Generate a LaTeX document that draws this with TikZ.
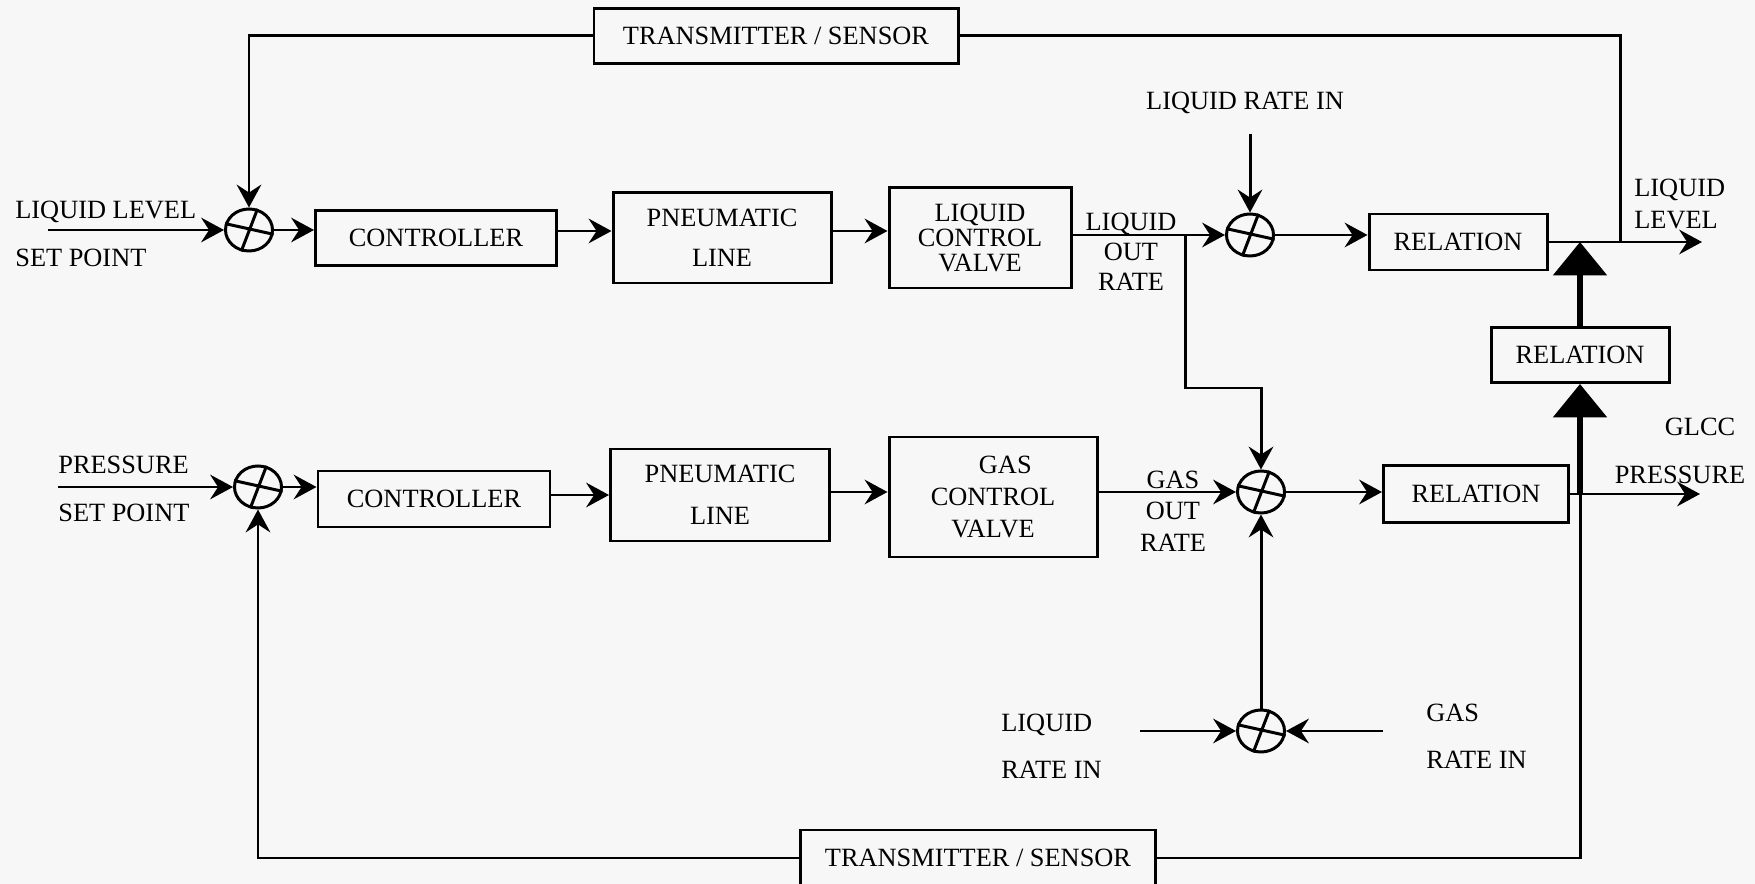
\documentclass[tikz,border=0pt]{standalone}
\usepackage{fontspec}
\setmainfont{Liberation Serif}
\usetikzlibrary{arrows.meta,shapes.geometric,calc}
\newlength\pxu
\setlength\pxu{0.02cm}
\definecolor{bgc}{RGB}{247,247,247}
\begin{document}
\begin{tikzpicture}[x=0.02cm,y=-0.02cm,
  font=\fontsize{15}{17}\selectfont,
  box/.style={draw,line width=1.7pt,inner sep=0pt,align=center},
  sumj/.style={draw,ellipse,line width=1.7pt,minimum width=47\pxu,minimum height=42\pxu,inner sep=0pt},
  lbl/.style={inner sep=0pt,align=center},
  conn/.style={line width=1.7pt},
  arr/.style={conn,-{Stealth[length=13pt,width=14pt,inset=4.5pt]}},
  bigarr/.style={line width=3.8pt,-{Triangle[length=19pt,width=30pt]}}]
\fill[bgc] (0,0) rectangle (1755,884);
\useasboundingbox (0,0) rectangle (1755,884);

% ---- row 1 ----
\node[box,minimum width=364\pxu,minimum height=55\pxu] (TS1) at (776,36) {TRANSMITTER / SENSOR};
\node[lbl,align=left,anchor=west] (LLSP) at (15,234) {LIQUID LEVEL\\[10pt]SET POINT};
\coordinate (LLSPa) at (48,230);
\node[sumj] (S1) at (249,230) {};
\node[box,minimum width=241\pxu,minimum height=55\pxu] (C1) at (436,238) {CONTROLLER};
\node[box,minimum width=218\pxu,minimum height=90\pxu] (P1) at (722,238) {PNEUMATIC\\[6pt]LINE};
\node[box,minimum width=182\pxu,minimum height=100\pxu,font=\fontsize{15}{14.2}\selectfont] (L1) at (980,238) {LIQUID\\CONTROL\\VALVE};
\node[lbl] (LOR) at (1131,252) {LIQUID\\OUT\\RATE};
\node[lbl] (LRI) at (1245,103) {LIQUID RATE IN};
\coordinate (LRIa) at (1250,134);
\node[sumj] (S2) at (1250,235) {};
\node[box,minimum width=178\pxu,minimum height=56\pxu] (R1) at (1458,242) {RELATION};
\coordinate (LLend) at (1702,242);
\coordinate (FB1b) at (1620,242);
\node[lbl,align=left,anchor=west,font=\fontsize{15}{18}\selectfont] (LL) at (1634,204) {LIQUID\\LEVEL};
\node[box,minimum width=178\pxu,minimum height=55\pxu] (R2) at (1580,355) {RELATION};
\coordinate (r1) at (0,231);
\coordinate (BRa) at (1185,235);
\coordinate (BRb) at (1261,388);

% ---- row 2 ----
\node[lbl,align=left,anchor=west] (PSP) at (58,489) {PRESSURE\\[10pt]SET POINT};
\coordinate (PSPa) at (58,487);
\node[sumj] (S5) at (258,487) {};
\node[box,minimum width=232\pxu,minimum height=56\pxu] (C2) at (434,499) {CONTROLLER};
\node[box,minimum width=219\pxu,minimum height=92\pxu] (P2) at (720,495) {PNEUMATIC\\[7pt]LINE};
\node[box,minimum width=208\pxu,minimum height=120\pxu,font=\fontsize{15}{18}\selectfont] (G) at (993,497) {\hspace*{14pt}GAS\\CONTROL\\VALVE};
\node[lbl,font=\fontsize{15}{18}\selectfont] (GOR) at (1173,511) {GAS\\OUT\\RATE};
\node[sumj] (S3) at (1261,492) {};
\node[box,minimum width=185\pxu,minimum height=57\pxu] (R3) at (1476,494) {RELATION};
\coordinate (PEnd) at (1700,494);
\node[lbl] (GLCC) at (1700,427) {GLCC};
\node[lbl] (GP) at (1680,475) {PRESSURE};
\coordinate (r2) at (0,495);
\coordinate (r2b) at (0,492);

% ---- bottom ----
\node[sumj] (S4) at (1261,731) {};
\node[lbl,align=left,anchor=west] (LRI2) at (1001,746) {LIQUID\\[10pt]RATE IN};
\coordinate (LRI2a) at (1140,731);
\node[lbl,align=left,anchor=west] (GRI) at (1426,736) {GAS\\[10pt]RATE IN};
\coordinate (GRIa) at (1383,731);
\node[box,minimum width=355\pxu,minimum height=56\pxu] (TS2) at (978,858) {TRANSMITTER / SENSOR};

% summing junction crosses
\foreach \s in {S1,S2,S3,S4,S5} {
  \draw[conn] (\s.165) -- (\s.-10) (\s.68) -- (\s.250);
}

% ---- connectors row 1 ----
\draw[arr] (TS1.west) -| (S1.north);
\draw[arr] (LLSPa) -- (S1.west);
\draw[arr] (S1.east) -- (S1.east -| C1.west);
\draw[arr] (C1.east |- r1) -- (P1.west |- r1);
\draw[arr] (P1.east |- r1) -- (L1.west |- r1);
\draw[arr] (L1.east |- S2) -- (S2.west);
\draw[arr] (LRIa) -- (S2.north);
\draw[arr] (S2.east) -- (S2.east -| R1.west);
\draw[arr] (R1.east) -- (LLend);
\draw[conn] (TS1.east) -| (FB1b);
\draw[arr] (BRa) |- (BRb) -- (S3.north);

% ---- connectors row 2 ----
\draw[arr] (PSPa) -- (S5.west);
\draw[arr] (S5.east) -- (S5.east -| C2.west);
\draw[arr] (C2.east |- r2) -- (P2.west |- r2);
\draw[arr] (P2.east |- r2b) -- (G.west |- r2b);
\draw[arr] (G.east |- S3) -- (S3.west);
\draw[arr] (S3.east) -- (S3.east -| R3.west);
\draw[arr] (R3.east) -- (PEnd);
\draw[arr] (S4.north) -- (S3.south);
\draw[arr] (LRI2a) -- (S4.west);
\draw[arr] (GRIa) -- (S4.east);

% ---- big arrows and pressure feedback ----
\coordinate (J2) at (R2.south |- R3.east);
\draw[bigarr] (R2.north) -- (R2.north |- R1.east);
\draw[bigarr] (J2) -- (R2.south);
\draw[conn] (J2) |- (TS2.east);
\draw[arr] (TS2.west) -| (S5.south);
\end{tikzpicture}
\end{document}
